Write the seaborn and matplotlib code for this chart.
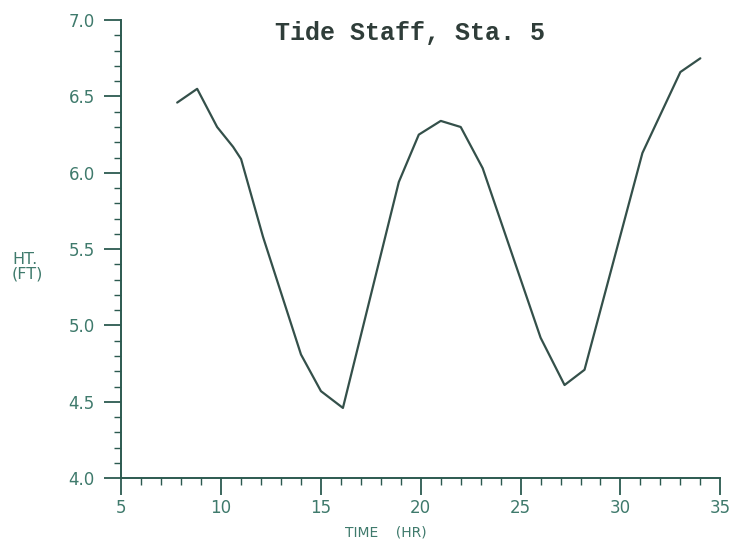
import matplotlib
matplotlib.use("Agg")
import matplotlib.pyplot as plt
import seaborn as sns
import pandas as pd
from matplotlib.ticker import MultipleLocator

# Data (time in hours, height in feet)
time_hr = [7.8, 8.8, 9.8, 10.6, 11.0, 12.1, 14.0, 15.0, 16.1, 18.9, 19.9,
           21.0, 22.0, 23.1, 26.0, 27.2, 28.2, 31.1, 33.0, 34.0]
height_ft = [6.46, 6.55, 6.30, 6.17, 6.09, 5.58, 4.81, 4.57, 4.46, 5.94, 6.25,
             6.34, 6.30, 6.03, 4.92, 4.61, 4.71, 6.13, 6.66, 6.75]
x_ticks = [5, 10, 15, 20, 25, 30, 35]
y_ticks = [4.0, 4.5, 5.0, 5.5, 6.0, 6.5, 7.0]
title = "Tide Staff, Sta. 5"

df = pd.DataFrame({"time": time_hr, "height": height_ft})

sns.set_style("ticks")
plt.rcParams["font.family"] = ["DejaVu Sans"]

text_col = "#3f7a6c"
axis_col = "#2c5a50"
line_col = "#34504a"

fig = plt.figure(figsize=(7.35, 5.44), dpi=100)
ax = fig.add_axes([0.165, 0.121, 0.815, 0.842])

sns.lineplot(data=df, x="time", y="height", ax=ax, color=line_col,
             linewidth=1.6, sort=False)

ax.set_xlim(5, 35)
ax.set_ylim(4.0, 7.0)
ax.set_xticks(x_ticks)
ax.set_xticklabels([str(v) for v in x_ticks])
ax.set_yticks(y_ticks)
ax.set_yticklabels([f"{v:.1f}" for v in y_ticks])
ax.xaxis.set_minor_locator(MultipleLocator(1))
ax.yaxis.set_minor_locator(MultipleLocator(0.1))

for s in ["top", "right"]:
    ax.spines[s].set_visible(False)
for s in ["left", "bottom"]:
    ax.spines[s].set_color(axis_col)
    ax.spines[s].set_linewidth(1.4)

ax.tick_params(axis="both", which="major", direction="out", length=12,
               width=1.3, color=axis_col, labelcolor=text_col, labelsize=12)
ax.tick_params(axis="y", which="major", pad=7)
ax.tick_params(axis="x", which="major", pad=3)
ax.tick_params(axis="both", which="minor", direction="out", length=5,
               width=1.0, color=axis_col)

ax.set_xlabel("")
ax.set_ylabel("")
fig.text(345 / 735, 1 - 532 / 544, "TIME    (HR)", color=text_col, fontsize=10,
         ha="left", va="center")
fig.text(12 / 735, 1 - 267 / 544, "HT.\n(FT)", color=text_col, fontsize=11.5,
         ha="left", va="center", linespacing=1.0)

fig.text(410 / 735, 1 - 33 / 544, title, family=["Liberation Mono", "DejaVu Sans Mono"],
         fontsize=18, color="#2f3d39", ha="center", va="center", weight="bold")

fig.savefig("out.png", dpi=100, facecolor="white")
